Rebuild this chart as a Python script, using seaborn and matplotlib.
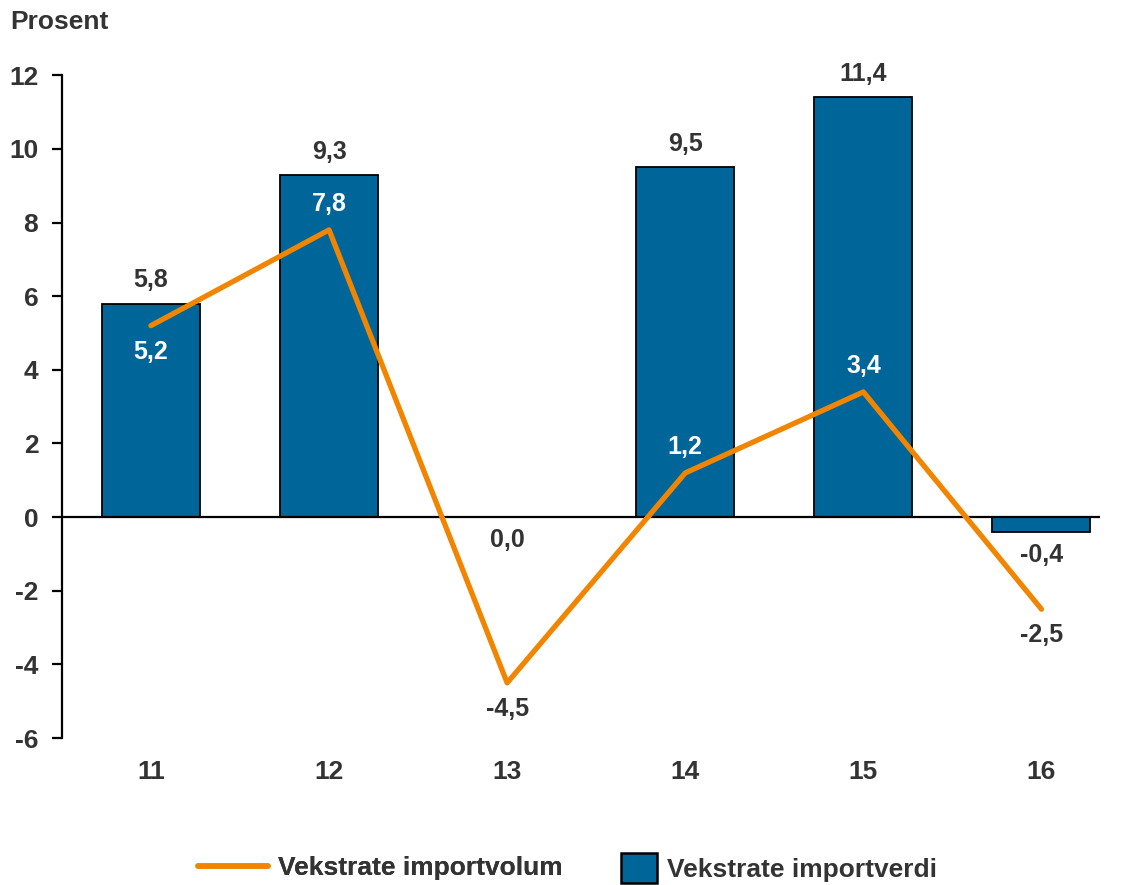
import numpy as np
import pandas as pd
import matplotlib
matplotlib.use("Agg")
import matplotlib.pyplot as plt
import seaborn as sns
from matplotlib.lines import Line2D
from matplotlib.patches import Patch

# --- DATI ---
years = ["11", "12", "13", "14", "15", "16"]
importverdi = [5.8, 9.3, 0.0, 9.5, 11.4, -0.4]
importvolum = [5.2, 7.8, -4.5, 1.2, 3.4, -2.5]
y_ticks = [-6, -4, -2, 0, 2, 4, 6, 8, 10, 12]

BLUE = "#00669A"
ORANGE = "#F28500"
TXT = "#333333"

sns.set_style("white")
plt.rcParams["font.family"] = ["Liberation Sans", "DejaVu Sans"]
plt.rcParams["font.weight"] = "bold"

fig = plt.figure(figsize=(11.25, 8.85), dpi=100)
ax = fig.add_axes([0.055, 0.166, 0.923, 0.749])

df = pd.DataFrame({"Aar": years, "Verdi": importverdi})
sns.barplot(data=df, x="Aar", y="Verdi", color=BLUE, saturation=1,
            width=0.55, edgecolor="black", linewidth=1.3, ax=ax, zorder=2)

xpos = np.arange(len(years))
sns.lineplot(x=xpos, y=importvolum, color=ORANGE, linewidth=3.8, ax=ax, zorder=3)

ax.axhline(0, color="black", linewidth=1.6, zorder=2.5)

ax.set_xlim(-0.5, 5.33)
ax.set_ylim(-6, 12)
ax.set_yticks(y_ticks)
ax.set_yticklabels([str(t) for t in y_ticks])
ax.set_xlabel("")
ax.set_ylabel("")

for s in ["top", "right", "bottom"]:
    ax.spines[s].set_visible(False)
ax.spines["left"].set_color("black")
ax.spines["left"].set_linewidth(1.6)
ax.spines["left"].set_bounds(-6, 12)

ax.tick_params(axis="y", direction="out", length=7, width=1.6, color="black",
               labelsize=19, labelcolor=TXT, pad=10, left=True)
ax.tick_params(axis="x", length=0, labelsize=19, labelcolor=TXT, pad=16)

FS = 18
# etiketter for stolpene
for i, v in enumerate(importverdi):
    lab = f"{v:.1f}".replace(".", ",")
    if v > 0:
        ax.annotate(lab, (i, v), xytext=(0, 8), textcoords="offset points",
                    ha="center", va="bottom", fontsize=FS, color=TXT, fontweight="bold")
    else:
        ax.annotate(lab, (i, v), xytext=(0, -8), textcoords="offset points",
                    ha="center", va="top", fontsize=FS, color=TXT, fontweight="bold")

# etiketter for linjen (over eller under punktet)
over = [False, True, False, True, True, False]
for i, v in enumerate(importvolum):
    lab = f"{v:.1f}".replace(".", ",")
    inside = importverdi[i] > 0 and 0 < v < importverdi[i]
    col = "white" if inside else TXT
    if over[i]:
        ax.annotate(lab, (i, v), xytext=(0, 10), textcoords="offset points",
                    ha="center", va="bottom", fontsize=FS, color=col, fontweight="bold")
    else:
        ax.annotate(lab, (i, v), xytext=(0, -10), textcoords="offset points",
                    ha="center", va="top", fontsize=FS, color=col, fontweight="bold")

fig.text(0.009, 0.975, "Prosent", ha="left", va="center", fontsize=19,
         color=TXT, fontweight="bold")

# to separate legender, slik at linje og kvadrat får ulik lengde
leg1 = fig.legend([Line2D([0], [0], color=ORANGE, linewidth=4)],
                  ["Vekstrate importvolum"], loc="center left",
                  bbox_to_anchor=(0.176, 0.019), frameon=False, fontsize=19,
                  labelcolor=TXT, handlelength=2.65, handletextpad=0.4,
                  borderpad=0, borderaxespad=0)
fig.add_artist(leg1)
fig.legend([Patch(facecolor=BLUE, edgecolor="black", linewidth=1.8)],
           ["Vekstrate importverdi"], loc="center left",
           bbox_to_anchor=(0.552, 0.019), frameon=False, fontsize=19,
           labelcolor=TXT, handlelength=1.35, handleheight=1.35,
           handletextpad=0.4, borderpad=0, borderaxespad=0)

fig.savefig("out.png", dpi=100)
